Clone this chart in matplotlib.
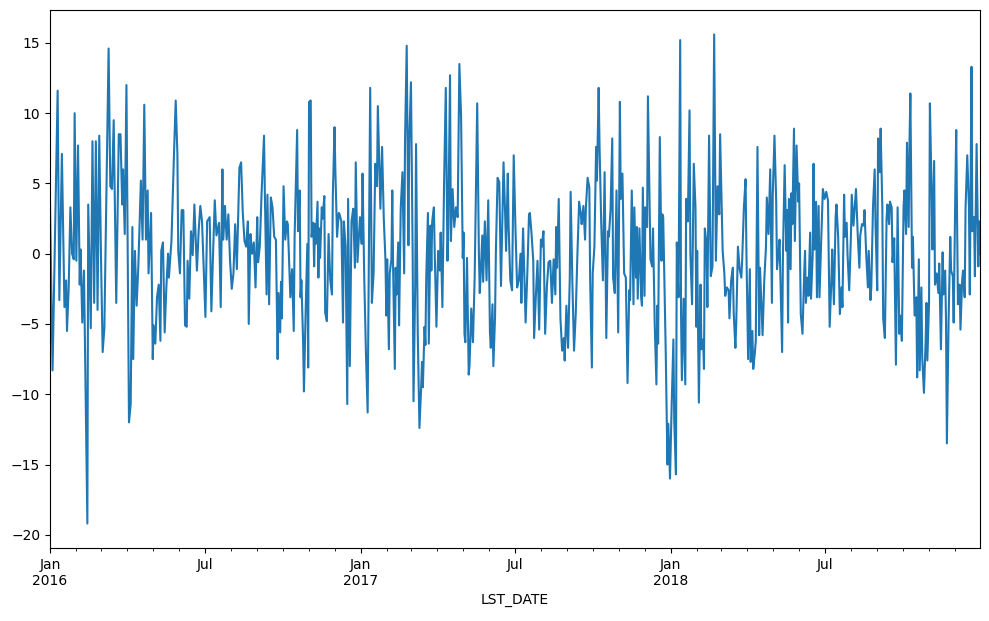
import matplotlib
matplotlib.use('Agg')
import matplotlib.pyplot as plt
import matplotlib.dates as mdates
import pandas as pd

# day offsets from 2016-01-01 and the values
days_2016 = [0, 3, 9, 11, 14, 17, 19, 20, 22, 24, 26, 28, 29, 31, 33, 35, 36, 38, 40, 44,
             45, 48, 50, 52, 54, 56, 58, 60, 62, 64, 69, 71, 73, 75, 78, 81, 83, 85, 86, 88,
             90, 93, 95, 97, 98, 100, 102, 104, 107, 109, 111, 113, 115, 116, 119, 121, 122, 124, 126, 128,
             130, 131, 133, 135, 137, 139, 140, 143, 146, 148, 150, 151, 153, 155, 157, 159, 161, 162, 164, 166,
             168, 170, 173, 175, 177, 179, 183, 185, 188, 190, 192, 194, 196, 199, 201, 203, 204, 206, 208, 210,
             212, 214, 216, 218, 220, 223, 225, 227, 229, 231, 233, 234, 236, 238, 240, 242, 244, 245, 247, 249,
             252, 253, 255, 256, 258, 260, 262, 264, 266, 268, 269, 271, 272, 273, 275, 277, 279, 280, 283, 285,
             287, 288, 291, 292, 294, 295, 296, 298, 299, 301, 303, 304, 305, 307, 308, 310, 311, 312, 313, 315,
             316, 317, 318, 320, 321, 323, 324, 326, 328, 330, 332, 333, 335, 336, 338, 340, 341, 343, 345, 346,
             348, 350, 351, 353, 355, 357, 359, 360, 362, 365]
vals_2016 = [3.6, -8.3, 11.6, -3.3, 7.1, -3.8, -1.9, -5.5, -2.4, 3.3, 0.0, -0.4, 10.0, -0.5, 7.7, -2.2, 0.3, -4.9, -1.2, -19.2,
             3.5, -5.3, 8.0, -3.5, 8.0, -4.0, 8.4, -0.1, -7.0, -5.3, 14.6, 4.8, 4.6, 9.5, -3.5, 8.5, 8.5, 3.5, 6.0, 1.4,
             12.0, -12.0, -10.7, 1.9, -7.5, 0.2, -3.7, -0.9, 5.2, 1.0, 10.6, 1.0, 4.5, -1.4, 2.9, -7.5, -5.1, -6.4, -3.1, -2.2,
             -6.2, 0.2, 0.8, -5.6, -2.4, 0.0, -1.7, 0.9, 7.1, 10.9, 7.1, 0.2, -1.4, 3.1, 3.1, -5.1, -5.2, -0.5, -3.2, 1.6,
             -0.1, 3.5, -1.2, 1.6, 3.4, 2.3, -4.5, 2.3, 2.6, -4.1, 0.0, 3.8, 1.3, 2.2, -3.8, 6.0, 1.0, 3.4, 1.0, 2.8,
             -0.5, -2.5, -1.4, 2.1, -1.1, 6.1, 6.5, 2.9, 0.9, 0.5, 2.3, -5.0, 1.4, 0.0, 0.8, -2.4, 2.6, -0.6, 0.5, 4.1,
             8.4, 4.2, -2.9, 4.2, -3.6, 4.0, 3.3, 1.2, 1.0, -7.5, -2.8, -5.6, -2.0, -4.6, 4.8, 1.0, 2.3, 2.1, -3.1, -1.1,
             -5.5, 1.2, 8.8, 1.6, 4.5, -3.1, -1.9, -6.2, -9.8, -4.1, 0.7, -8.1, 10.8, 10.9, 1.2, 2.2, -0.9, 2.1, 0.7, 3.7,
             -1.7, 1.8, -0.3, 3.3, 2.5, 4.1, -4.2, -4.8, 1.4, -1.9, -2.9, 4.1, 9.0, 5.9, 1.2, 2.9, 2.8, 2.3, -4.9, 2.3,
             0.5, -10.7, 3.9, -8.0, 2.3, 3.2, -1.0, 6.5, -0.6, 2.6]

days_2017 = [367, 368, 370, 372, 374, 377, 379, 381, 383, 385, 386, 389, 391, 393, 395, 396, 397, 399, 400, 402,
             403, 404, 406, 407, 408, 410, 411, 413, 415, 417, 418, 420, 422, 423, 425, 427, 428, 430, 431, 433,
             435, 437, 438, 439, 441, 442, 443, 445, 446, 448, 449, 450, 452, 453, 455, 457, 459, 460, 462, 464,
             466, 468, 469, 471, 472, 474, 476, 478, 480, 482, 484, 486, 487, 488, 489, 491, 493, 494, 496, 498,
             500, 503, 505, 506, 507, 509, 510, 512, 514, 516, 518, 519, 521, 522, 524, 525, 527, 529, 531, 533,
             534, 536, 537, 539, 540, 542, 544, 546, 548, 550, 552, 554, 555, 557, 560, 562, 564, 565, 567, 569,
             570, 572, 574, 576, 578, 579, 581, 583, 585, 587, 589, 591, 593, 595, 596, 597, 599, 601, 603, 605,
             606, 608, 610, 612, 613, 615, 617, 619, 621, 623, 625, 626, 628, 630, 631, 633, 635, 636, 638, 639,
             641, 643, 644, 646, 647, 649, 651, 653, 655, 657, 658, 660, 662, 663, 665, 667, 669, 671, 672, 674,
             676, 678, 680, 682, 683, 685, 687, 688, 690, 691, 692, 694, 696, 697, 698, 700, 701, 703, 704, 706,
             707, 709, 710, 712, 714, 715, 716, 718, 720, 721, 722, 723, 725, 727, 728, 730]
vals_2017 = [0.7, 5.7, -1.7, -7.1, -11.3, 11.8, -3.5, -1.4, 6.4, 4.8, 10.5, 3.2, 7.6, 2.5, -0.5, -4.4, -0.4, -6.8, -1.4, -0.4,
             4.5, -1.1, -8.2, -1.0, -2.9, 0.8, -5.1, 3.3, 5.8, -1.4, 8.0, 14.8, 0.6, 8.0, 12.2, 0.0, -10.5, -2.2, 7.8, -5.7,
             -12.4, -9.5, -7.7, -9.5, -5.2, -6.5, -1.7, 2.9, -6.4, 2.0, -1.2, 2.3, 3.3, 0.0, -5.2, 0.2, -1.2, 1.5, -3.8, 5.0,
             11.8, -0.5, 2.1, 12.7, 0.9, 4.6, 1.9, 3.3, 2.6, 13.5, 9.8, -0.3, 1.5, -5.7, -6.3, -0.3, -8.6, -7.9, -3.9, -6.3,
             -1.7, 10.7, -0.1, -2.8, -1.6, 1.3, -2.0, 2.3, -1.9, 3.8, -5.6, -6.7, -3.6, -8.0, -4.5, 0.2, 5.4, 5.1, -2.3, 3.8,
             6.5, 2.6, 0.2, 5.7, 1.9, -1.9, -2.6, 7.0, 1.9, -2.4, -1.9, 0.0, -3.5, 1.8, -4.9, -1.4, 2.8, 2.9, 1.4, -0.5,
             -6.0, -3.1, -0.5, -5.4, 1.0, 0.5, 1.6, -5.7, -2.4, -0.6, -0.5, -3.5, -0.4, -2.9, 1.9, -1.0, 3.9, -4.6, -6.9, -6.0,
             -7.6, -3.7, -6.7, -1.7, 4.4, -1.9, -6.9, -4.3, 0.0, 3.7, 2.8, 2.1, 3.4, 1.0, 3.3, 5.4, 4.7, -1.9, -8.1, -1.4,
             0.5, 7.6, 5.2, 11.8, 7.8, 2.2, -1.9, 5.8, -6.0, 1.6, 1.2, 3.1, 8.2, -1.7, -2.8, 4.5, -5.6, 10.8, 3.9, 5.7,
             -1.4, -1.7, -9.2, -2.6, -3.3, 4.5, -3.6, 3.3, -1.7, 1.9, -3.2, 1.8, -3.1, -3.7, 4.7, -3.0, 3.3, 1.9, 11.2, 3.3,
             -0.4, -0.9, 1.8, -5.0, -9.3, -3.7, -6.4, 8.3, -0.5, 2.8, 2.6, -0.5, -7.1, -15.0, -12.1, -16.0]

days_2018 = [732, 734, 735, 737, 738, 740, 742, 743, 744, 746, 748, 749, 751, 753, 754, 756, 758, 760, 761, 762,
             764, 766, 767, 769, 770, 771, 773, 774, 776, 778, 780, 782, 784, 786, 788, 789, 791, 792, 794, 795,
             797, 799, 800, 802, 804, 805, 807, 808, 810, 812, 814, 815, 817, 819, 820, 822, 824, 825, 827, 828,
             830, 831, 833, 835, 836, 838, 839, 841, 843, 844, 846, 848, 850, 851, 853, 855, 856, 858, 859, 862,
             863, 865, 867, 868, 869, 870, 872, 873, 874, 876, 877, 879, 881, 882, 884, 886, 888, 889, 890, 892,
             893, 895, 896, 898, 899, 900, 902, 903, 905, 906, 908, 910, 912, 914, 916, 918, 920, 921, 923, 925,
             926, 928, 930, 932, 933, 935, 936, 938, 939, 941, 943, 944, 946, 948, 949, 951, 953, 954, 956, 958,
             959, 961, 963, 964, 966, 967, 969, 971, 972, 974, 975, 977, 978, 980, 981, 983, 985, 986, 988, 989,
             991, 992, 994, 996, 998, 1000, 1001, 1003, 1005, 1006, 1008, 1009, 1011, 1012, 1013, 1015, 1016, 1018, 1020, 1021,
             1023, 1024, 1026, 1027, 1029, 1031, 1032, 1033, 1035, 1036, 1038, 1039, 1041, 1042, 1044, 1046, 1047, 1049, 1051, 1052,
             1054, 1055, 1056, 1058, 1060, 1061, 1063, 1064, 1066, 1067, 1069, 1071, 1072, 1074, 1075, 1077, 1078, 1080, 1082, 1083,
             1085, 1086, 1088, 1089, 1091, 1093, 1094, 1095]
vals_2018 = [-10.7, -6.1, -11.9, -15.7, 0.8, -3.1, 15.2, -4.3, -9.0, -3.2, -9.3, 3.9, 2.3, 10.2, 0.0, -3.6, 6.4, 3.3, -5.2, 0.2,
             -10.6, -2.2, -6.8, -6.1, -8.2, 1.8, 0.7, -3.8, 8.4, -1.6, -0.9, 15.6, -0.5, 4.8, 2.8, 8.5, 2.8, 0.2, -1.4, -3.0,
             -2.4, -2.6, -4.6, -1.9, -1.0, -4.2, -6.7, -4.9, 0.5, -1.1, -1.7, -0.4, 3.3, 5.3, 0.0, -7.5, -1.1, -7.7, -5.5, -8.2,
             -7.0, -6.2, 7.6, -5.8, -1.0, -4.1, -5.8, -1.9, 0.5, 4.0, 1.4, 6.0, -3.5, 4.2, 8.4, 3.8, -1.1, 0.2, 1.0, -7.0,
             0.0, 6.3, 0.2, 3.1, -4.9, 3.9, -1.1, 4.3, 2.1, 8.9, 0.9, 7.7, 3.7, 5.0, -4.3, -5.7, -1.4, 0.2, -3.5, -1.7,
             -3.0, 1.5, -3.2, -0.1, 6.4, 0.3, 3.7, -3.1, 3.4, -3.1, 0.9, 4.6, 3.9, 4.4, 3.8, -5.2, -1.9, 0.3, -3.6, 2.6,
             3.5, 1.2, -4.3, -2.4, -3.8, 4.2, 1.2, 2.2, 0.0, -2.6, 1.2, 4.2, 2.0, 3.8, 4.6, 1.4, -1.0, 1.3, 2.1, 2.0,
             3.1, 0.0, -2.4, 0.2, -3.3, -2.4, 3.3, 6.0, 2.0, -2.6, 8.2, 5.8, 8.9, 3.3, -4.6, -6.0, 2.5, 3.5, 2.1, 3.7,
             3.3, -0.6, 1.1, -7.9, 3.3, -5.7, -4.4, -6.2, 3.3, 4.5, 1.4, 7.9, 1.9, 7.9, 11.4, -1.0, 1.2, -4.4, -3.1, -8.8,
             -0.4, -8.3, -2.4, -7.4, -9.9, -6.2, -3.5, -7.6, -3.5, 10.7, 4.5, 0.3, 6.6, -2.2, -1.4, -2.8, -0.7, -6.8, 0.1, -2.9,
             -1.2, -4.8, -13.5, -4.8, 1.2, -1.2, -1.6, -4.9, 4.7, 8.8, -3.6, -2.2, -5.4, -1.9, -1.2, -3.1, 3.3, 7.0, 3.3, -2.9,
             13.3, 1.6, 2.6, -1.6, 7.8, -0.9, 2.3, 0.0]

start = pd.Timestamp('2016-01-01')
end = pd.Timestamp('2018-12-31')
days = days_2016 + days_2017 + days_2018
vals = vals_2016 + vals_2017 + vals_2018
dates = start + pd.to_timedelta(days, unit='D')

fig = plt.figure(figsize=(9.89, 6.21), dpi=100)
ax = fig.add_axes([50 / 989, 1 - 548 / 621, 930 / 989, 538 / 621])
ax.plot(dates, vals, color='#1f77b4', linewidth=1.5)

ax.set_xlim(start, end)
ax.xaxis.set_major_locator(mdates.MonthLocator(bymonth=[1, 7]))
ax.xaxis.set_minor_locator(mdates.MonthLocator())


def fmt(x, pos=None):
    d = mdates.num2date(x)
    if d.month == 1:
        return 'Jan\n%d' % d.year
    return d.strftime('%b')


ax.xaxis.set_major_formatter(plt.FuncFormatter(fmt))
ax.xaxis.set_minor_formatter(plt.NullFormatter())
for lbl in ax.get_xticklabels():
    lbl.set_ha('center')
ax.set_xlabel('LST_DATE')

fig.savefig('out.png', dpi=100)
